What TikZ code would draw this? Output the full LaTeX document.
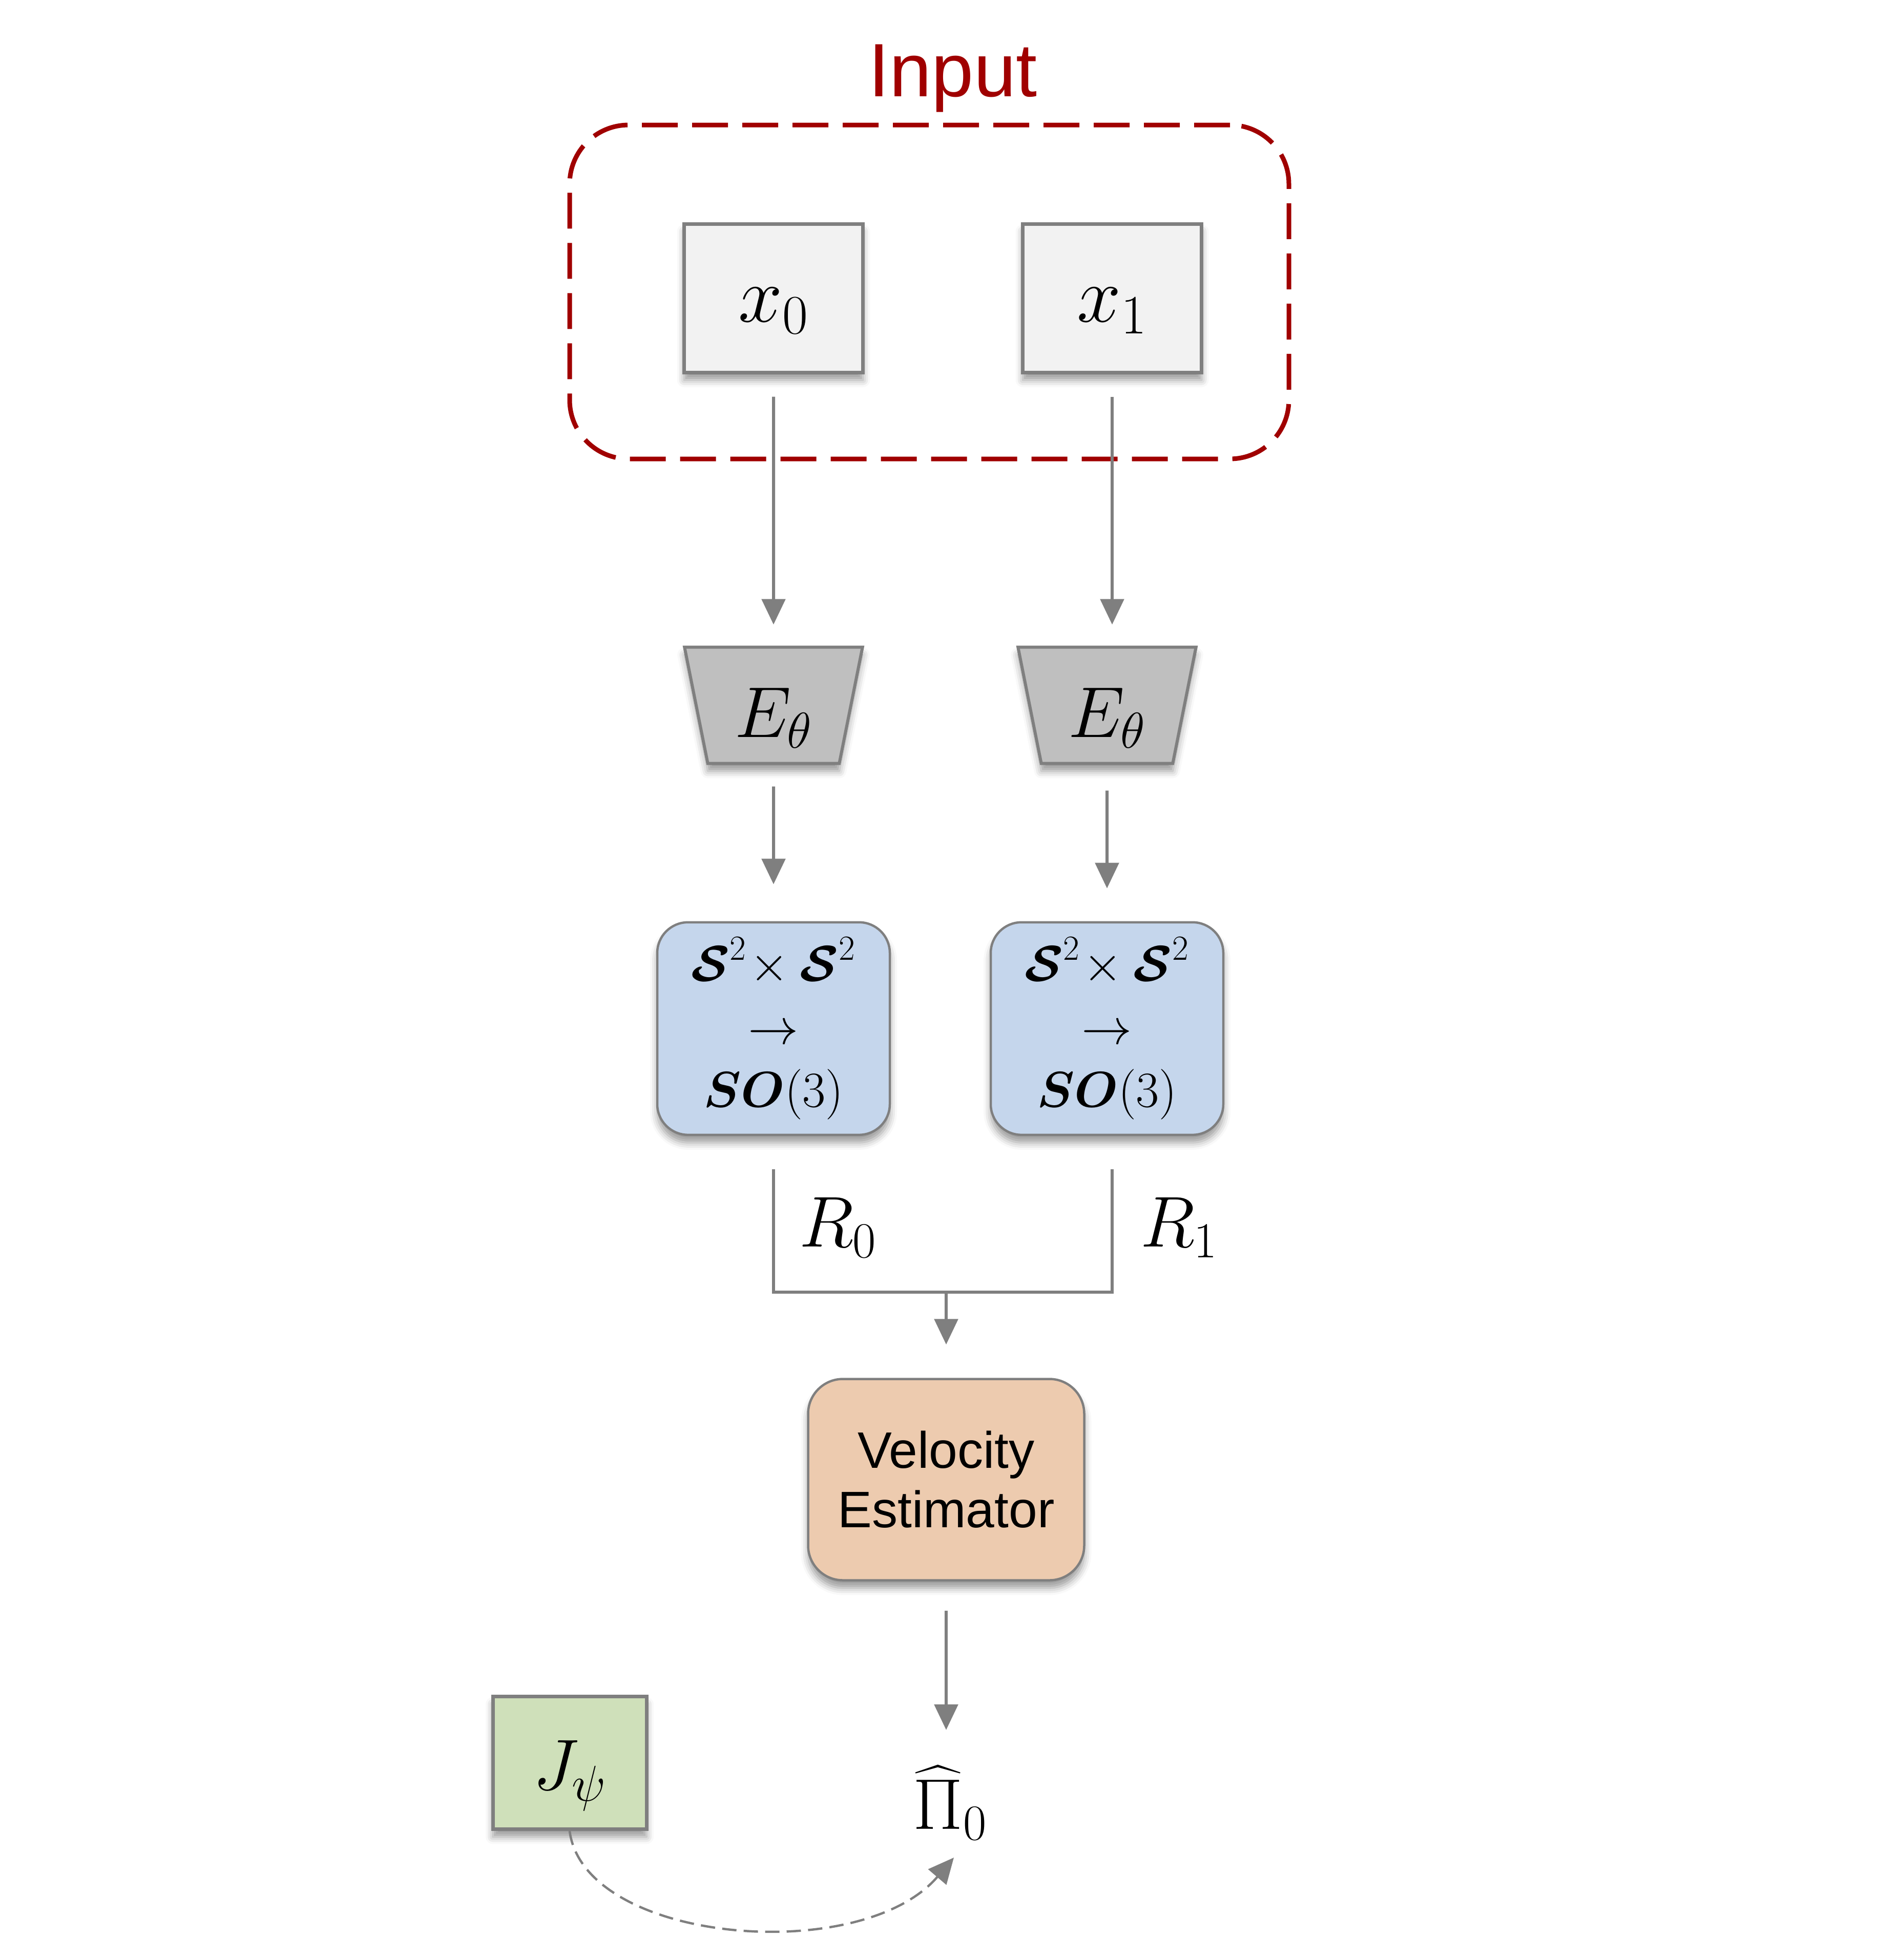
\RequirePackage{fix-cm}
\documentclass[tikz,border=0pt]{standalone}
\usepackage{amsmath}
\usepackage{bm}
\usepackage{fontspec}
\setsansfont{Liberation Sans}
\usepackage{xcolor}
\usepackage{tikz}
\usetikzlibrary{arrows.meta, positioning, shapes.geometric, calc, shadows.blur}

\definecolor{linegray}{RGB}{127,127,127}
\definecolor{inputred}{RGB}{160,0,0}
\definecolor{inputfill}{RGB}{242,242,242}
\definecolor{encfill}{RGB}{191,191,191}
\definecolor{mapfill}{RGB}{197,214,236}
\definecolor{velfill}{RGB}{237,203,175}
\definecolor{jfill}{RGB}{207,224,186}

\newcommand{\lowered}[1]{\raisebox{-0.25cm}[\height][\depth]{#1}}

\begin{document}
\begin{tikzpicture}[
    node distance=0.8cm and 1.2cm,
    sym/.style={font=\fontsize{40}{48}\selectfont},
    boxshadow/.style={blur shadow={shadow xshift=0cm, shadow yshift=-0.15cm, shadow blur radius=0.14cm, shadow opacity=40}},
    inbox/.style={draw=linegray, line width=0.07cm, fill=inputfill, minimum width=3.49cm, minimum height=2.90cm, font=\fontsize{44}{52}\selectfont, boxshadow},
    encoder/.style={trapezium, shape border rotate=180, trapezium angle=77.6, trapezium stretches=true, draw=linegray, line width=0.06cm, fill=encfill, minimum width=3.49cm, minimum height=2.27cm, sym, boxshadow},
    mapping/.style={draw=linegray, line width=0.045cm, fill=mapfill, rounded corners=0.6cm, minimum width=4.54cm, minimum height=4.15cm, align=center, font=\fontsize{28}{35}\selectfont, boxshadow},
    estimator/.style={draw=linegray, line width=0.045cm, fill=velfill, rounded corners=0.68cm, minimum width=5.39cm, minimum height=3.93cm, align=center, font=\sffamily\fontsize{28.5}{33}\selectfont, boxshadow},
    jbox/.style={draw=linegray, line width=0.07cm, fill=jfill, minimum width=3.00cm, minimum height=2.59cm, sym, boxshadow},
    inputframe/.style={draw=inputred, line width=0.09cm, dash pattern=on 0.7cm off 0.28cm, rounded corners=1.15cm, minimum width=14.04cm, minimum height=6.52cm},
    line/.style={draw=linegray, line width=0.06cm},
    arrow/.style={-{Triangle[length=0.5cm, width=0.46cm]}, draw=linegray, line width=0.06cm},
    dashed arrow/.style={-{Triangle[length=0.5cm, width=0.46cm]}, draw=linegray, line width=0.045cm, dash pattern=on 0.28cm off 0.14cm},
]
\useasboundingbox (0,0) rectangle (37.08,-38.27);

% Input pair
\node[inbox] (x0) at (15.10,-5.82) {\lowered{$x_0$}};
\node[inbox, right=3.05cm of x0] (x1) {\lowered{$x_1$}};
\node[inputframe] (input) at (18.14,-5.70) {};
\node[font=\sffamily\fontsize{42}{50}\selectfont, text=inputred, anchor=base] (inputlbl) at (18.60,-1.88) {Input};

% Encoders
\node[encoder, below=5.3cm of x0] (e0) {\lowered{$E_\theta$}};
\node[encoder, below=5.3cm of x1, xshift=-0.1cm] (e1) {\lowered{$E_\theta$}};

% Rotation maps
\node[mapping, below=3.05cm of e0] (m0) {$\bm{\mathcal{S}}^2\!\times\bm{\mathcal{S}}^2$\\$\rightarrow$\\$\bm{SO}(3)$};
\node[mapping, below=3.05cm of e1] (m1) {$\bm{\mathcal{S}}^2\!\times\bm{\mathcal{S}}^2$\\$\rightarrow$\\$\bm{SO}(3)$};

% Velocity estimator and output
\node[estimator] (vel) at (18.47,-28.89) {Velocity\\Estimator};
\node[sym, inner sep=0pt] (pi) at (18.55,-35.20) {$\widehat{\Pi}_0$};

% Jacobian
\node[jbox] (jpsi) at (11.12,-34.42) {\lowered{$J_\psi$}};

% Arrows
\draw[arrow, shorten <=0.44cm, shorten >=0.41cm] (x0) -- (e0);
\draw[arrow, shorten <=0.44cm, shorten >=0.41cm] (x1.south) -- (x1.south |- e1.north);

\draw[arrow, shorten <=0.42cm, shorten >=0.72cm] (e0) -- (m0);
\draw[arrow, shorten <=0.50cm, shorten >=0.64cm] (e1) -- (m1);

% Merge of the two rotations
\coordinate[below=3.05cm of m0.south] (join);
\draw[line] ([yshift=-0.65cm]m0.south) -- (join) -| ([yshift=-0.65cm]x1.south |- m1.south);
\node[sym] (r0) at (16.36,-23.97) {$R_0$};
\node[sym] (r1) at (23.02,-23.97) {$R_1$};
\draw[arrow, shorten >=0.65cm] (vel.north |- join) -- (vel.north);

\draw[arrow, shorten <=0.57cm, shorten >=0.69cm] (vel.south) -- (vel.south |- pi.north);

% Jacobian feedback
\coordinate (pitip) at (18.62,-36.27);
\draw[dashed arrow] (jpsi.south) .. controls +(0.28,-2.19) and +(-1.82,-2.13) .. (pitip);

\end{tikzpicture}
\end{document}
